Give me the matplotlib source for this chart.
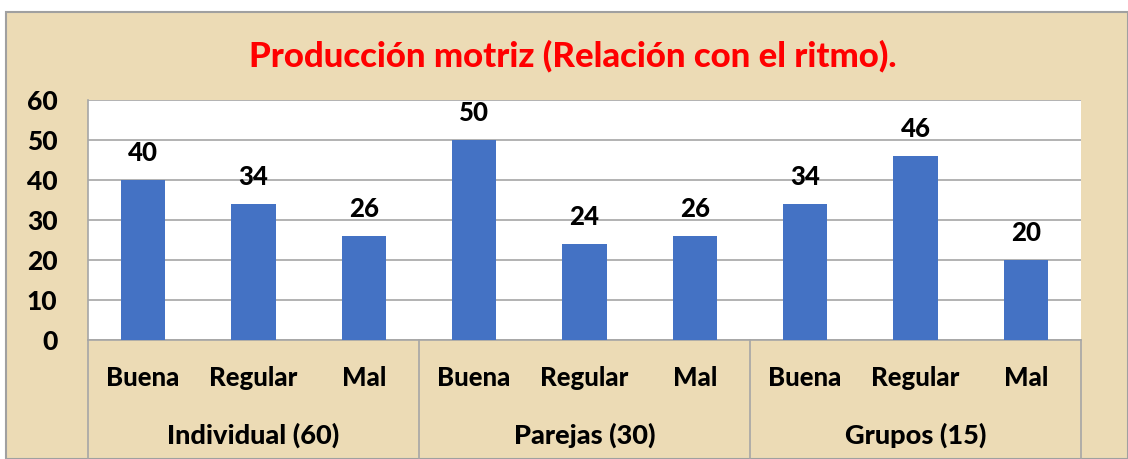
import matplotlib
matplotlib.use("Agg")
import matplotlib.pyplot as plt
from matplotlib.patches import Rectangle
import matplotlib.transforms as mtransforms

title = "Producción motriz (Relación con el ritmo)."
groups = ["Individual (60)", "Parejas (30)", "Grupos (15)"]
subcats = ["Buena", "Regular", "Mal"]
values = [40, 34, 26, 50, 24, 26, 34, 46, 20]
yticks = [0, 10, 20, 30, 40, 50, 60]

W, H = 1128, 459
bg = "#ECDBB5"
bar_color = "#4472C4"
grid_color = "#A6A6A6"
font = "Lato"
fw = 900

fig = plt.figure(figsize=(W / 100, H / 100), dpi=100)
fig.patch.set_facecolor("white")
# chart area background with border
fig.patches.append(Rectangle((6 / W, 0), 1 - 6 / W, 1 - 12 / H, transform=fig.transFigure,
                             facecolor=bg, edgecolor="#A0A0A0", linewidth=1.5, zorder=-10))

ax = fig.add_axes([88 / W, 1 - 340 / H, (1081 - 88) / W, 240 / H])
ax.set_zorder(1)
ax.set_facecolor("white")
n = len(values)
x = list(range(n))
bars = ax.bar(x, values, width=0.4, color=bar_color, zorder=3)
ax.set_xlim(-0.5, n - 0.5)
ax.set_ylim(0, 60)
ax.set_yticks(yticks)
ax.set_yticklabels([str(v) for v in yticks], fontsize=19, fontweight=fw, family=font)
ax.tick_params(axis="y", length=0, pad=22)
ax.set_xticks([])
ax.yaxis.grid(True, color=grid_color, linewidth=1.2, zorder=0)
for s in ["top", "right"]:
    ax.spines[s].set_visible(False)
ax.spines["left"].set_color(grid_color)
ax.spines["bottom"].set_color(grid_color)
ax.spines["left"].set_linewidth(1.2)
ax.spines["bottom"].set_linewidth(1.2)

for xi, v in zip(x, values):
    ax.annotate(str(v), (xi, v), xytext=(0, 11), textcoords="offset points",
                ha="center", va="bottom", fontsize=18.5, fontweight=fw, family=font)

trans = mtransforms.blended_transform_factory(ax.transData, ax.transAxes)
ng = len(groups)
per = len(subcats)
for i in range(ng + 1):
    xs = i * per - 0.5
    ax.plot([xs, xs], [0, -0.5], transform=trans, color=grid_color, linewidth=1.2, clip_on=False)
for i, g in enumerate(groups):
    for j, s in enumerate(subcats):
        ax.text(i * per + j, -0.16, s, transform=trans, ha="center", va="center",
                fontsize=18.5, fontweight=fw, family=font)
    ax.text(i * per + (per - 1) / 2, -0.395, g, transform=trans, ha="center", va="center",
            fontsize=19.5, fontweight=fw, family=font)

fig.text(573 / W, 1 - 56 / H, title, ha="center", va="center", color="#FF0000",
         fontsize=25, fontweight=fw, family=font)

fig.savefig("out.png", dpi=100, facecolor=fig.get_facecolor())
